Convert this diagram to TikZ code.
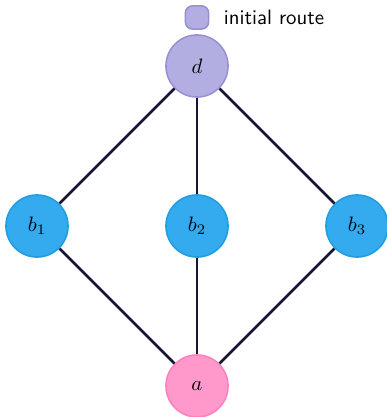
\documentclass[tikz,border=0pt]{standalone}
\usepackage{xcolor}
\usepackage{tikz}
\usetikzlibrary{positioning}

\definecolor{routefill}{RGB}{179,174,226}
\definecolor{routedraw}{RGB}{153,144,212}
\definecolor{midfill}{RGB}{52,171,238}
\definecolor{middraw}{RGB}{30,157,224}
\definecolor{srcfill}{RGB}{255,153,204}
\definecolor{srcdraw}{RGB}{255,128,190}
\definecolor{linkcol}{RGB}{22,20,52}

\tikzset{
  vertex/.style={draw, shape=circle, minimum size=29.8pt, inner sep=0pt, line width=0.75pt},
  link/.style={draw=linkcol, line width=1.2pt}
}

\begin{document}
\begin{tikzpicture}
\useasboundingbox (-94.56pt,-168.48pt) rectangle (90.72pt,31.68pt);
\node[vertex, draw=routedraw, fill=routefill] (d) {$d$};
\node[vertex, draw=middraw, fill=midfill, below of=d, node distance=76.8pt] (b2) {$b_2$};
\node[vertex, draw=middraw, fill=midfill, left of=b2, node distance=76.8pt] (b1) {$b_1$};
\node[vertex, draw=middraw, fill=midfill, right of=b2, node distance=76.8pt] (b3) {$b_3$};
\node[vertex, draw=srcdraw, fill=srcfill, below of=b2, node distance=76.8pt] (a) {$a$};
% legend
\node[draw=routedraw, fill=routefill, shape=rectangle, rounded corners=3.5pt, minimum size=11.2pt, inner sep=0pt, line width=0.75pt, above of=d, node distance=23.3pt] (key) {};
\node[right=3.4pt of key, font=\sffamily] (keytext) {initial route};
\draw[link] (d) -- (b1);
\draw[link] (d) -- (b2);
\draw[link] (d) -- (b3);
\draw[link] (b1) -- (a);
\draw[link] (b2) -- (a);
\draw[link] (b3) -- (a);
\end{tikzpicture}
\end{document}
